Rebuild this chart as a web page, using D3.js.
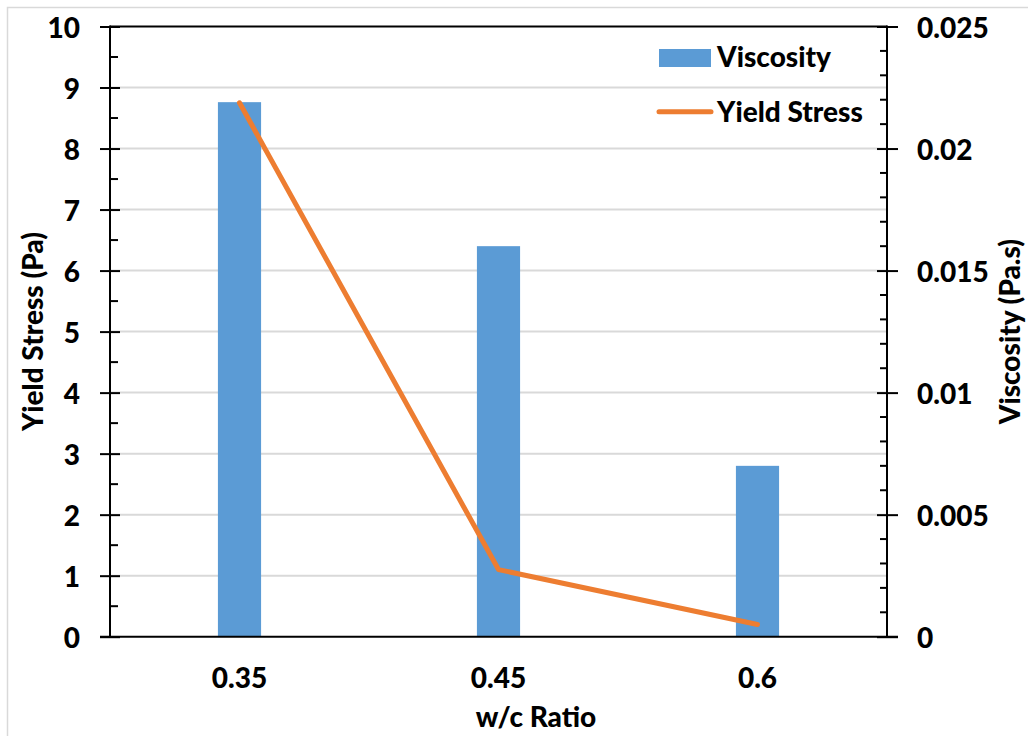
<!DOCTYPE html>
<html>
<head>
<meta charset="utf-8">
<script src="https://cdn.jsdelivr.net/npm/d3@7/dist/d3.min.js"></script>
<style>
  html, body { margin: 0; padding: 0; background: #fff; }
  svg { display: block; }
  text { font-family: Lato, "Open Sans", sans-serif; font-weight: 900; fill: #000; }
</style>
</head>
<body>
<svg id="chart" width="1028" height="736"></svg>
<script>
// w/c ratio categories
const categories = ["0.35", "0.45", "0.6"];
// Viscosity (Pa.s), right axis, drawn as bars
const viscosity = [0.0219, 0.016, 0.007];
// Yield stress (Pa), left axis, drawn as a line
const yieldStress = [8.75, 1.1, 0.2];
// Axis tick values
const leftTicks = [0, 1, 2, 3, 4, 5, 6, 7, 8, 9, 10];
const rightTicks = [0, 0.005, 0.01, 0.015, 0.02, 0.025];
const rightTickLabels = ["0", "0.005", "0.01", "0.015", "0.02", "0.025"];

const svg = d3.select("#chart");
const plot = { left: 110, right: 887, top: 26.5, bottom: 636.7 };
const FONT = 28;
const barColor = "#5B9BD5";
const lineColor = "#ED7D31";
const gridColor = "#D9D9D9";

// chart area border
svg.append("rect")
  .attr("x", 7.5).attr("y", 7.5)
  .attr("width", 1040).attr("height", 760)
  .attr("fill", "none").attr("stroke", gridColor).attr("stroke-width", 1.5);

const x = d3.scaleBand().domain(categories).range([plot.left, plot.right]).paddingInner(0).paddingOuter(0);
const yL = d3.scaleLinear().domain([0, 10]).range([plot.bottom, plot.top]);
const yR = d3.scaleLinear().domain([0, 0.025]).range([plot.bottom, plot.top]);

// horizontal gridlines
svg.append("g").selectAll("line")
  .data(leftTicks.filter(v => v > 0 && v < 10))
  .join("line")
  .attr("x1", plot.left).attr("x2", plot.right)
  .attr("y1", d => yL(d)).attr("y2", d => yL(d))
  .attr("stroke", gridColor).attr("stroke-width", 2);

// viscosity bars
const barW = x.bandwidth() / 6;
svg.append("g").selectAll("rect")
  .data(categories)
  .join("rect")
  .attr("x", d => x(d) + x.bandwidth() / 2 - barW / 2)
  .attr("y", (d, i) => yR(viscosity[i]))
  .attr("width", barW)
  .attr("height", (d, i) => yR(0) - yR(viscosity[i]))
  .attr("fill", barColor);

// top border line of plot
svg.append("line")
  .attr("x1", plot.left).attr("x2", plot.right)
  .attr("y1", plot.top).attr("y2", plot.top)
  .attr("stroke", "#000").attr("stroke-width", 2);

// left axis
const axL = svg.append("g").attr("transform", `translate(${plot.left},0)`)
  .call(d3.axisLeft(yL).tickValues(leftTicks).tickSize(10).tickPadding(0).tickFormat(d3.format("d")));
axL.select(".domain").remove();
axL.selectAll(".tick line").attr("x1", 10).attr("x2", -10).attr("stroke", "#000").attr("stroke-width", 2);
axL.selectAll(".tick text")
  .attr("x", -30).attr("dy", null).attr("dominant-baseline", "central")
  .style("font-size", FONT + "px").style("font-family", null);
axL.append("line").attr("x1", 0).attr("x2", 0).attr("y1", plot.top - 1).attr("y2", plot.bottom + 1)
  .attr("stroke", "#000").attr("stroke-width", 2);
// left minor ticks
axL.append("g").selectAll("line")
  .data(d3.range(0, 10).map(v => v + 0.5))
  .join("line")
  .attr("x1", 0).attr("x2", 8)
  .attr("y1", d => yL(d)).attr("y2", d => yL(d))
  .attr("stroke", "#000").attr("stroke-width", 2);

// right axis
const axR = svg.append("g").attr("transform", `translate(${plot.right},0)`)
  .call(d3.axisRight(yR).tickValues(rightTicks).tickSize(10).tickPadding(0)
    .tickFormat((d, i) => rightTickLabels[i]));
axR.select(".domain").remove();
axR.selectAll(".tick line").attr("x1", -10).attr("x2", 11).attr("stroke", "#000").attr("stroke-width", 2);
axR.selectAll(".tick text")
  .attr("x", 30).attr("dy", null).attr("dominant-baseline", "central")
  .style("font-size", FONT + "px").style("font-family", null);
axR.append("line").attr("x1", 0).attr("x2", 0).attr("y1", plot.top - 1).attr("y2", plot.bottom + 1)
  .attr("stroke", "#000").attr("stroke-width", 2);
// right minor ticks
axR.append("g").selectAll("line")
  .data(d3.range(0, 25).map(v => (v + 1) * 0.001).filter(v => Math.round(v * 1000) % 5 !== 0))
  .join("line")
  .attr("x1", -7).attr("x2", 0)
  .attr("y1", d => yR(d)).attr("y2", d => yR(d))
  .attr("stroke", "#000").attr("stroke-width", 2);

// bottom axis
const axB = svg.append("g").attr("transform", `translate(0,${plot.bottom})`)
  .call(d3.axisBottom(x).tickSize(0).tickPadding(0));
axB.select(".domain").remove();
axB.selectAll(".tick text")
  .attr("y", 51).attr("dy", null)
  .style("font-size", FONT + "px").style("font-family", null);
axB.append("line").attr("x1", plot.left - 10).attr("x2", plot.right + 11).attr("y1", 0).attr("y2", 0)
  .attr("stroke", "#000").attr("stroke-width", 2);

// yield stress line
const line = d3.line()
  .x((d, i) => x(categories[i]) + x.bandwidth() / 2)
  .y(d => yL(d));
svg.append("path")
  .datum(yieldStress)
  .attr("d", line)
  .attr("fill", "none")
  .attr("stroke", lineColor)
  .attr("stroke-width", 5)
  .attr("stroke-linecap", "round")
  .attr("stroke-linejoin", "round");

// axis titles
svg.append("text")
  .attr("x", 536).attr("y", 727)
  .attr("text-anchor", "middle")
  .style("font-size", FONT + "px")
  .text("w/c Ratio");
svg.append("text")
  .attr("transform", `translate(43,${(plot.top + plot.bottom) / 2}) rotate(-90)`)
  .attr("text-anchor", "middle")
  .style("font-size", FONT + "px")
  .text("Yield Stress (Pa)");
svg.append("text")
  .attr("transform", `translate(1020,${(plot.top + plot.bottom) / 2}) rotate(-90)`)
  .attr("text-anchor", "middle")
  .style("font-size", FONT + "px")
  .text("Viscosity (Pa.s)");

// legend
const legend = svg.append("g");
legend.append("rect")
  .attr("x", 659).attr("y", 49).attr("width", 52).attr("height", 18)
  .attr("fill", barColor);
legend.append("text")
  .attr("x", 717).attr("y", 66.7)
  .style("font-size", FONT + "px")
  .text("Viscosity");
legend.append("line")
  .attr("x1", 659).attr("x2", 711).attr("y1", 111.7).attr("y2", 111.7)
  .attr("stroke", lineColor).attr("stroke-width", 5).attr("stroke-linecap", "round");
legend.append("text")
  .attr("x", 717).attr("y", 121.7)
  .style("font-size", FONT + "px")
  .text("Yield Stress");
</script>
</body>
</html>
